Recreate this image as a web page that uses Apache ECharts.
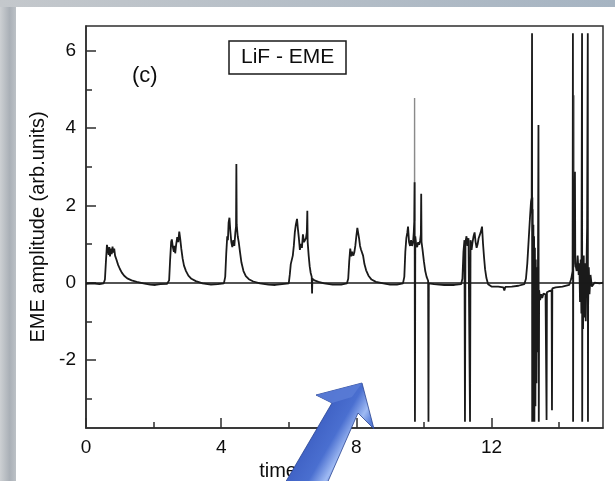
<!DOCTYPE html>
<html>
<head>
<meta charset="utf-8">
<script src="https://cdn.jsdelivr.net/npm/echarts@6/dist/echarts.min.js"></script>
<style>html,body{margin:0;padding:0;background:#fff}#c{width:615px;height:481px}</style>
</head>
<body>
<div id="c"></div>
<script>
// Tick labels
const xMajor = [0, 4, 8, 12];
const xMinor = [2, 6, 10, 14];
const yMajor = [-2, 0, 2, 4, 6];
const yMinor = [-3, -1, 1, 3, 5];

// Signal segments [time, amplitude]
const seg0 = [[0,-0.03],[0.2,-0.02],[0.4,-0.04],[0.52,-0.02]];
const pulse1 = [[0.56,0.08],[0.59,0.55],[0.62,0.98],[0.645,1.03],[0.67,0.72],[0.69,0.92],[0.71,0.68],[0.735,0.88],[0.76,0.74],[0.785,0.93],[0.81,0.78],[0.835,0.88],[0.86,0.7],[0.9,0.6],[0.95,0.46],[1.0,0.36],[1.06,0.26],[1.13,0.18],[1.22,0.11],[1.35,0.06],[1.5,0.02]];
const gap1 = [[1.7,-0.02],[1.9,-0.05],[2.05,-0.06],[2.2,-0.04],[2.4,-0.03]];
const pulse2 = [[2.46,0.06],[2.49,0.6],[2.52,1.05],[2.54,1.12],[2.57,0.92],[2.6,0.8],[2.62,0.95],[2.64,0.76],[2.67,1.0],[2.7,1.18],[2.73,1.05],[2.76,1.32],[2.79,1.12],[2.82,0.88],[2.86,0.62],[2.9,0.44],[2.96,0.3],[3.03,0.18],[3.12,0.1],[3.25,0.04]];
const gap2 = [[3.45,-0.02],[3.7,-0.05],[3.9,-0.04],[4.08,-0.02]];
const pulse3 = [[4.12,0.15],[4.15,0.75],[4.18,1.2],[4.2,1.1],[4.22,1.55],[4.245,1.68],[4.27,1.35],[4.3,1.05],[4.33,0.92],[4.36,1.1],[4.39,0.95],[4.42,1.3],[4.44,1.45],[4.45,3.07],[4.46,1.5],[4.49,1.2],[4.52,1.05],[4.56,0.78],[4.6,0.52],[4.66,0.3],[4.73,0.17],[4.82,0.09],[4.95,0.03]];
const gap3 = [[5.15,-0.02],[5.4,-0.05],[5.6,-0.06],[5.8,-0.04],[6.0,-0.02]];
const pulse4 = [[6.03,0.2],[6.06,0.48],[6.09,0.52],[6.12,0.7],[6.15,0.95],[6.18,1.3],[6.21,1.5],[6.245,1.65],[6.27,1.4],[6.3,1.15],[6.33,0.85],[6.36,1.0],[6.39,0.9],[6.42,1.25],[6.45,1.05],[6.48,1.0],[6.51,1.15],[6.535,1.3],[6.55,1.86],[6.56,1.05],[6.59,0.7],[6.62,0.42],[6.65,0.25],[6.68,0.15],[6.69,-0.28],[6.70,0.1],[6.76,0.06],[6.88,0.02]];
const gap4 = [[7.05,-0.02],[7.3,-0.05],[7.55,-0.05],[7.72,-0.02]];
const pulse5 = [[7.76,0.1],[7.79,0.55],[7.82,0.88],[7.85,0.68],[7.88,0.8],[7.91,0.7],[7.94,0.78],[7.97,0.95],[8.0,1.2],[8.03,1.42],[8.05,1.46],[8.08,1.15],[8.11,0.95],[8.14,0.85],[8.17,0.9],[8.2,0.7],[8.24,0.48],[8.29,0.32],[8.36,0.18],[8.45,0.08],[8.58,0.02]];
const gap5 = [[8.8,-0.02],[9.0,-0.05],[9.2,-0.05],[9.38,-0.02]];
const pulse6 = [[9.42,0.15],[9.45,0.8],[9.48,1.15],[9.51,1.3],[9.53,1.45],[9.56,1.05],[9.59,0.95],[9.62,1.1],[9.65,0.95],[9.68,1.05],[9.7,1.3],[9.715,1.6],[9.725,2.6],[9.735,-3.6],[9.745,1.2],[9.77,1.0],[9.8,0.92],[9.83,1.05],[9.86,0.98],[9.89,1.1],[9.91,1.25],[9.92,2.3],[9.93,1.05],[9.96,0.85],[10.0,0.55],[10.04,0.3],[10.08,0.15],[10.125,0.05],[10.135,-3.6],[10.145,-0.02]];
const gap6 = [[10.3,-0.04],[10.6,-0.06],[10.9,-0.06],[11.1,-0.04]];
const pulse7 = [[11.14,0.1],[11.17,0.8],[11.2,1.1],[11.215,-3.6],[11.23,1.05],[11.26,1.2],[11.29,0.95],[11.32,1.15],[11.35,1.2],[11.365,-3.6],[11.38,1.1],[11.41,0.85],[11.44,1.05],[11.47,1.2],[11.5,1.3],[11.53,1.05],[11.56,0.9],[11.59,1.0],[11.62,1.15],[11.65,1.1],[11.68,1.3],[11.72,1.45],[11.75,1.0],[11.78,0.65],[11.81,0.35],[11.85,0.12],[11.9,-0.04]];
const gap7 = [[12.0,-0.1],[12.2,-0.1],[12.35,-0.12],[12.38,-0.2],[12.41,-0.11],[12.6,-0.1],[12.8,-0.08],[12.97,-0.04]];
const pulse8 = [[13.02,0.1],[13.06,0.5],[13.1,1.1],[13.14,1.7],[13.17,2.1],[13.19,2.2],[13.2,6.45],[13.205,-3.6],[13.21,2.2],[13.215,-3.6],[13.22,1.9],[13.23,-3.6],[13.24,1.5],[13.25,-3.55],[13.26,1.2],[13.27,-3.6],[13.285,0.9],[13.3,-3.2],[13.31,0.6],[13.33,-2.6],[13.345,0.4],[13.36,-1.8],[13.375,0.3],[13.39,4.08],[13.4,-3.6],[13.41,-0.2],[13.44,-0.45],[13.47,-0.3],[13.5,-0.4],[13.54,-0.28],[13.6,-0.3],[13.63,-3.55],[13.64,-0.25],[13.7,-0.22],[13.78,-0.2],[13.79,-3.3],[13.8,-0.15],[13.9,-0.12],[14.1,-0.1],[14.3,-0.06]];
const pulse9 = [[14.36,0.1],[14.4,0.3],[14.41,6.45],[14.415,-3.6],[14.42,0.4],[14.47,2.87],[14.48,0.5],[14.52,0.3],[14.55,0.7],[14.58,0.2],[14.6,0.5],[14.62,-0.5],[14.64,0.6],[14.66,-0.8],[14.68,6.45],[14.685,-3.6],[14.69,0.4],[14.71,-1.2],[14.73,0.7],[14.75,-0.9],[14.77,0.5],[14.79,-1.0],[14.81,0.3],[14.83,1.45],[14.85,6.45],[14.855,-3.6],[14.86,-0.6],[14.88,0.4],[14.9,-0.3],[14.93,0.2],[14.97,-0.1],[15.05,0.0],[15.2,-0.02],[15.3,0.0]];
// Lighter (grey) spikes
const greySpikeA = [[9.722,1.6],[9.724,4.78],[9.726,1.6]];
const greySpikeB = [[14.44,0.4],[14.443,4.85],[14.446,0.4]];

const signal = [].concat(seg0,pulse1,gap1,pulse2,gap2,pulse3,gap3,pulse4,gap4,pulse5,gap5,pulse6,gap6,pulse7,gap7,pulse8,pulse9);

const FONT = '"Liberation Sans", Arial, Helvetica, sans-serif';
const INK = '#0d0d0d';
const AX = '#2e2e2e';

const chart = echarts.init(document.getElementById('c'), null, {renderer:'canvas', width:615, height:481});

const arrowFill = {type:'linear', x:0, y:0.25, x2:1, y2:0.75, colorStops:[
  {offset:0, color:'#2f4ea8'},{offset:0.35, color:'#3f61c4'},{offset:0.55, color:'#4a6fd0'},
  {offset:0.68, color:'#9fbaf3'},{offset:0.76, color:'#5d82dc'},{offset:1, color:'#2b4698'}]};

const option = {
  animation: false,
  backgroundColor: '#ffffff',
  title: [
    {text:'LiF - EME', left:229, top:41, padding:[6,12,6,12], borderColor:'#1a1a1a', borderWidth:1.5,
     textStyle:{fontFamily:FONT, fontSize:21, fontWeight:'normal', color:INK}},
    {text:'(c)', left:132, top:65, padding:0,
     textStyle:{fontFamily:FONT, fontSize:22, fontWeight:'normal', color:INK}}
  ],
  grid: {left:86, right:12, top:26, bottom:53, show:true, borderColor:AX, borderWidth:1.5, backgroundColor:'transparent', outerBoundsMode:'none'},
  xAxis: [
    {type:'value', min:0, max:15.3, position:'bottom',
     axisLine:{show:true, onZero:false, lineStyle:{color:AX, width:1.5}},
     axisTick:{show:true, inside:true, length:10, customValues:xMajor, lineStyle:{color:AX, width:1.5}},
     axisLabel:{customValues:xMajor, margin:10, fontSize:19, color:INK, fontFamily:FONT},
     splitLine:{show:false},
     name:'time (s)', nameLocation:'middle', nameGap:27,
     nameTextStyle:{fontSize:20, color:INK, fontFamily:FONT, padding:[0,104,0,0]}},
    {type:'value', min:0, max:15.3, position:'bottom',
     axisLine:{show:false, onZero:false},
     axisTick:{show:true, inside:true, length:6, customValues:xMinor, lineStyle:{color:AX, width:1.5}},
     axisLabel:{show:false}, splitLine:{show:false}}
  ],
  yAxis: [
    {type:'value', min:-3.76, max:6.64, position:'left',
     axisLine:{show:true, onZero:false, lineStyle:{color:AX, width:1.5}},
     axisTick:{show:true, inside:true, length:10, customValues:yMajor, lineStyle:{color:AX, width:1.5}},
     axisLabel:{customValues:yMajor, margin:10, fontSize:19, color:INK, fontFamily:FONT},
     splitLine:{show:false},
     name:'EME amplitude (arb.units)', nameLocation:'middle', nameGap:34,
     nameTextStyle:{fontSize:20, color:INK, fontFamily:FONT}},
    {type:'value', min:-3.76, max:6.64, position:'left',
     axisLine:{show:false, onZero:false},
     axisTick:{show:true, inside:true, length:6, customValues:yMinor, lineStyle:{color:AX, width:1.5}},
     axisLabel:{show:false}, splitLine:{show:false}}
  ],
  series: [
    {type:'line', name:'EME', data:signal, xAxisIndex:0, yAxisIndex:0, showSymbol:false, symbol:'none',
     lineStyle:{color:'#1a1a1a', width:1.8}, z:3,
     markLine:{silent:true, symbol:['none','none'], label:{show:false},
       lineStyle:{color:'#1a1a1a', width:1.5, type:'solid'}, data:[{yAxis:0}]}},
    {type:'line', name:'spikeA', data:greySpikeA, showSymbol:false, symbol:'none', lineStyle:{color:'#8a8a8a', width:1.4}, z:2},
    {type:'line', name:'spikeB', data:greySpikeB, showSymbol:false, symbol:'none', lineStyle:{color:'#8a8a8a', width:1.4}, z:2}
  ],
  graphic: [
    {type:'rect', left:0, top:0, z:-10, silent:true, shape:{width:16, height:481},
     style:{fill:{type:'linear', x:0, y:0, x2:1, y2:0, colorStops:[{offset:0,color:'#cdd0d3'},{offset:0.6,color:'#aab0b7'},{offset:1,color:'#bcc1c6'}]}}},
    {type:'rect', left:0, top:0, z:-9, silent:true, shape:{width:615, height:7},
     style:{fill:{type:'linear', x:0, y:0, x2:1, y2:0, colorStops:[{offset:0,color:'#c4c8cc'},{offset:1,color:'#a6b4c2'}]}}},
    {type:'group', z:100, children:[
      {type:'polygon', silent:true, z:100,
       shape:{points:[[362,383],[374,429],[358,413],[322,495],[278,495],[332,403],[316,395]]},
       style:{fill:arrowFill, stroke:'#2a4492', lineWidth:0.8}},
      {type:'polygon', silent:true, z:101,
       shape:{points:[[316,395],[362,383],[352,397],[332,403]]},
       style:{fill:'#5a7dd6', opacity:0.85}}
    ]}
  ]
};
chart.setOption(option);
</script>
</body>
</html>
